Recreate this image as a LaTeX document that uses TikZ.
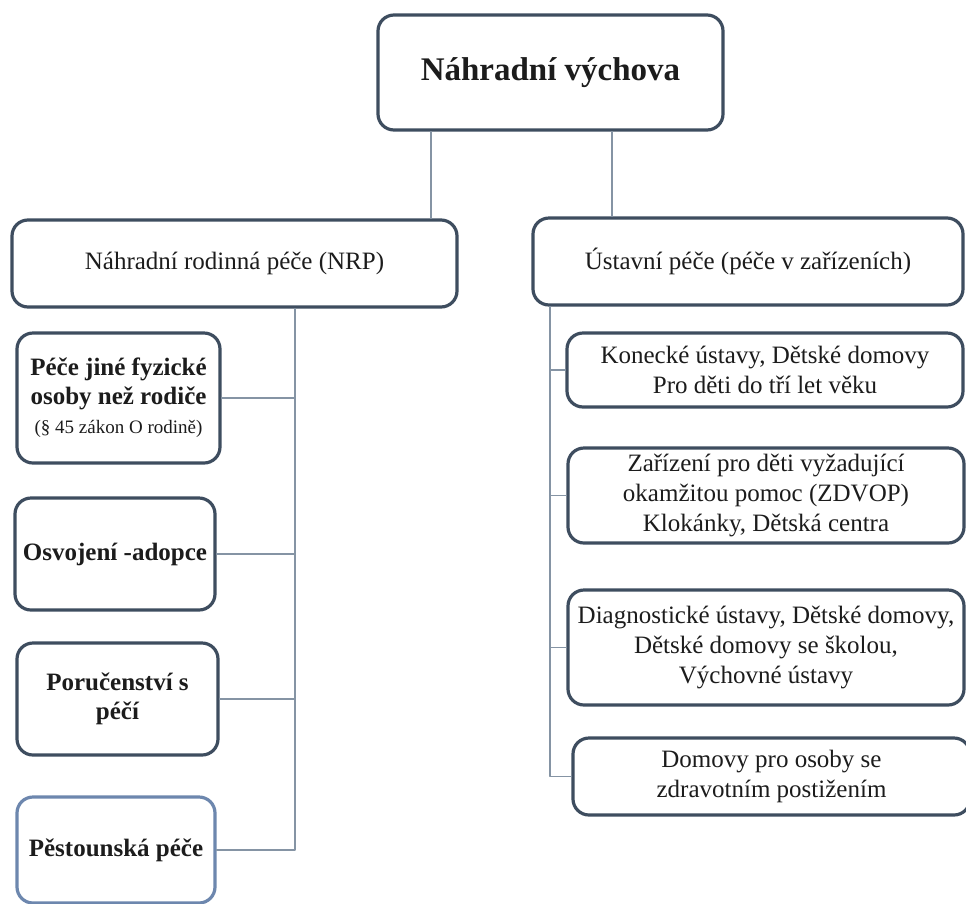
\documentclass[tikz,border=0pt]{standalone}
\usepackage{fontspec}
\setmainfont{Liberation Serif}
\definecolor{boxline}{HTML}{3E4D5F}
\definecolor{boxlite}{HTML}{6D87AE}
\definecolor{linkline}{HTML}{8594A4}
\definecolor{inktext}{HTML}{1C1C1C}
\tikzset{
  box/.style={draw=boxline,line width=3.2pt,rounded corners=16pt,fill=white,
    align=center,inner sep=0pt,text=inktext,font=\fontsize{25}{30}\selectfont},
  boldbox/.style={box,font=\bfseries\fontsize{25}{29}\selectfont},
  link/.style={draw=linkline,line width=1.3pt},
}
\begin{document}
\begin{tikzpicture}[x=1pt,y=-1pt,line cap=round,line join=round]
  % Two branches of substitute care: family care at left, institutional care at right.
  \useasboundingbox (0,0) rectangle (966,903);
  \clip (0,0) rectangle (966,903);
  \coordinate (jl) at (431,0);
  \coordinate (jr) at (612,0);
  \coordinate (busL) at (295,0);
  \coordinate (busR) at (550,0);

  \node[box,minimum width=345pt,minimum height=115pt,font=\bfseries\fontsize{33}{38}\selectfont] (top) at (550.5,72.5) {Náhradní výchova};
  \node[box,minimum width=445pt,minimum height=87pt] (nrp) at (234.5,263.5) {Náhradní rodinná péče (NRP)};
  \node[box,minimum width=430pt,minimum height=87pt] (ust) at (748,261.5) {Ústavní péče (péče v zařízeních)};

  \node[boldbox,minimum width=203pt,minimum height=130pt] (l1) at (118.5,398) {Péče jiné fyzické\\osoby než rodiče\\{\mdseries\fontsize{19}{21}\selectfont (§ 45 zákon O rodině)}};
  \node[boldbox,minimum width=200pt,minimum height=112pt] (l2) at (115,554) {Osvojení -adopce};
  \node[boldbox,minimum width=201pt,minimum height=112pt] (l3) at (117.5,699) {Poručenství s\\péčí};
  \node[boldbox,draw=boxlite,minimum width=198pt,minimum height=106pt] (l4) at (116,850) {Pěstounská péče};

  \node[box,minimum width=396pt,minimum height=74pt] (r1) at (765,370) {Konecké ústavy, Dětské domovy\\Pro děti do tří let věku};
  \node[box,minimum width=396pt,minimum height=95pt] (r2) at (766,495.5) {Zařízení pro děti vyžadující\\okamžitou pomoc (ZDVOP)\\Klokánky, Dětská centra};
  \node[box,minimum width=396pt,minimum height=115pt] (r3) at (766,647.5) {Diagnostické ústavy, Dětské domovy,\\Dětské domovy se školou,\\Výchovné ústavy};
  \node[box,minimum width=397pt,minimum height=77pt] (r4) at (771.5,776.5) {Domovy pro osoby se\\zdravotním postižením};

  \draw[link] (top.south -| jl) -- (nrp.north -| jl);
  \draw[link] (top.south -| jr) -- (ust.north -| jr);

  \draw[link] (nrp.south -| busL) |- (l4.east);
  \foreach \n in {l1,l2,l3}
    \draw[link] (\n.east) -- (\n.east -| busL);

  \draw[link] (ust.south -| busR) |- (r4.west);
  \foreach \n in {r1,r2,r3}
    \draw[link] (\n.west) -- (\n.west -| busR);
\end{tikzpicture}
\end{document}
